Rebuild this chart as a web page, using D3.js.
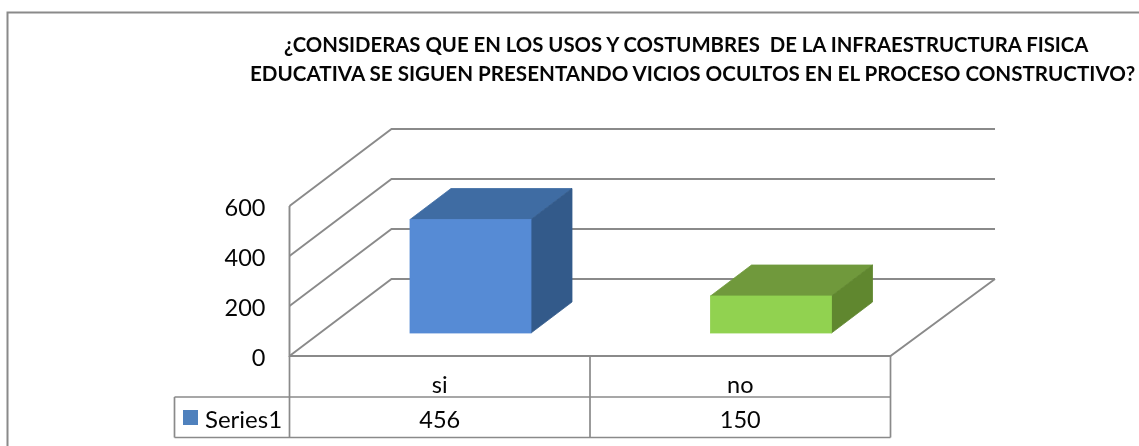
<!DOCTYPE html>
<html><head><meta charset="utf-8">
<script src="https://cdn.jsdelivr.net/npm/d3@7"></script>
<style>html,body{margin:0;padding:0;background:#fff}svg{display:block;filter:blur(0.45px)}text{font-family:Lato,"Open Sans",sans-serif;fill:#050505}</style>
</head><body><svg id="c" width="1139" height="446"></svg>
<script>
const titleLines = ["¿CONSIDERAS QUE EN LOS USOS Y COSTUMBRES  DE LA INFRAESTRUCTURA FISICA","EDUCATIVA SE SIGUEN PRESENTANDO VICIOS OCULTOS EN EL PROCESO CONSTRUCTIVO?"];
const categories = ["si","no"];
const values = [456,150];
const seriesName = "Series1";
const yTicks = [0,200,400,600];
const frontColors = ["#568bd5","#91d250"];
const topColors = ["#3f6ca3","#70993c"];
const sideColors = ["#335a8a","#60872f"];
const gray = "#8a8a8a";

const svg = d3.select("#c");
const floorY = 356, depthX = 102, depthY = -77, barDX = 41, barDY = -31, barLift = 23;
const x = d3.scaleBand().domain(categories).range([289.5,890.5]);
const y = d3.scaleLinear().domain([0,600]).range([floorY,floorY-150]);

// frame
svg.append("path").attr("d","M7.5 446V12.5H1139").attr("fill","none").attr("stroke",gray).attr("stroke-width",2);

// title: condensed horizontally to the reference's line widths
const titlePos = [{x:284,w:805,y:52},{x:250,w:886,y:81}];
svg.selectAll("text.t").data(titleLines).join("text").attr("class","t")
 .attr("font-size",21.5).attr("font-weight",700).style("white-space","pre").text(d=>d)
 .attr("transform",function(d,i){
   const s=titlePos[i].w/this.getComputedTextLength();
   return `translate(${titlePos[i].x},${titlePos[i].y}) scale(${s},1)`;
 });

// walls and gridlines
const grid = svg.append("g").attr("fill","none").attr("stroke",gray).attr("stroke-width",1.9);
yTicks.forEach(t=>{
  const yy=y(t);
  grid.append("path").attr("d",`M${x.range()[0]} ${yy}L${x.range()[0]+depthX} ${yy+depthY}H${x.range()[1]+depthX+2.5}`);
});
grid.append("path").attr("d",`M${x.range()[0]} ${y(600)}V${y(0)}H${x.range()[1]}L${x.range()[1]+depthX+2.5} ${y(0)+depthY}`);

// bars
const inset = 120.5, bw = 121;
categories.forEach((c,i)=>{
  const l=x(c)+inset, r=l+bw, b=floorY-barLift, t=y(values[i])-barLift+0.5;
  const g=svg.append("g").attr("stroke-width",0.8);
  g.append("path").attr("d",`M${l} ${t}L${l+barDX} ${t+barDY}H${r+barDX}L${r} ${t}Z`).attr("fill",topColors[i]).attr("stroke",topColors[i]);
  g.append("path").attr("d",`M${r} ${t}L${r+barDX} ${t+barDY}V${b+barDY}L${r} ${b}Z`).attr("fill",sideColors[i]).attr("stroke",sideColors[i]);
  g.append("rect").attr("x",l).attr("y",t).attr("width",bw).attr("height",b-t).attr("fill",frontColors[i]).attr("stroke",frontColors[i]);
});

// y axis labels
const ax = svg.append("g").attr("transform","translate(289.5,2)").call(d3.axisLeft(y).tickValues(yTicks).tickSize(0).tickPadding(24));
ax.select(".domain").remove();
ax.selectAll("text").attr("font-size",23.5).style("font-family","Lato");

// data table
const tableLeft=174.5, row1=397, row2=437.5;
const tb=svg.append("g").attr("fill","none").attr("stroke",gray).attr("stroke-width",1.7);
tb.append("path").attr("d",`M${tableLeft} ${row1}H${x.range()[1]}M${tableLeft} ${row2}H${x.range()[1]}M${tableLeft} ${row1}V${row2}M${x.range()[0]} ${floorY}V${row2}M${x.range()[1]} ${floorY}V${row2}M${x("no")} ${floorY}V${row2}`);
svg.selectAll("text.c").data(categories).join("text").attr("class","c").attr("text-anchor","middle")
  .attr("x",d=>x(d)+x.bandwidth()/2).attr("y",392.5).attr("font-size",23.5).text(d=>d);
svg.selectAll("text.v").data(values).join("text").attr("class","v").attr("text-anchor","middle")
  .attr("x",(d,i)=>x(categories[i])+x.bandwidth()/2).attr("y",428).attr("font-size",23.5).text(d=>d);
svg.append("rect").attr("x",183).attr("y",410).attr("width",15).attr("height",15).attr("fill","#4f81bd");
svg.append("text").attr("x",205).attr("y",428).attr("font-size",24).text(seriesName);
</script></body></html>
